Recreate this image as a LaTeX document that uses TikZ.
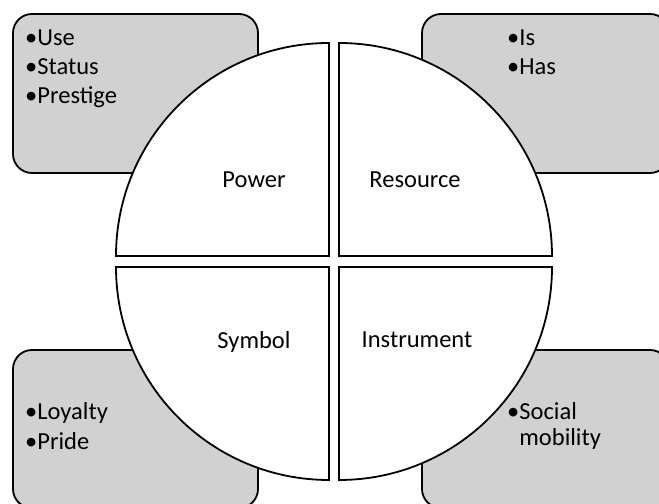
\documentclass[tikz,border=0pt]{standalone}
\usepackage{fontspec}
\setmainfont{Carlito}
\usepackage{tikz}

\definecolor{boxgray}{RGB}{209,209,209}

\begin{document}
\begin{tikzpicture}[x=1bp, y=1bp,
    infobox/.style={draw, line width=1.8bp, fill=boxgray, rounded corners=19bp},
    quarter/.style={draw, line width=1.8bp, fill=white},
    word/.style={inner sep=0pt, font=\fontsize{24.5bp}{29bp}\selectfont},
    item/.style={word, anchor=base west}]
	\useasboundingbox (0,0) rectangle (659,504);
	\clip (0,0) rectangle (659,504);

	% grey boxes in the corners
	\path[infobox] (13,331) rectangle (258,490); % top left
	\path[infobox] (422,331) rectangle (669,490); % top right
	\path[infobox] (13,-4) rectangle (258,154); % bottom left
	\path[infobox] (422,-4) rectangle (669,154); % bottom right

	% the four quarters of the circle
	\foreach \cx/\cy/\a in {329/248/90, 339/248/0, 329/237/180, 339/237/270}
		\path[quarter] (\cx,\cy) -- ++(\a:213) arc[start angle=\a, delta angle=90, radius=213] -- cycle;

	\node[word, anchor=base] (power) at (254,316) {Power};
	\node[word, anchor=base] (resource) at (415,316) {Resource};
	\node[word, anchor=base] (symbol) at (254,155) {Symbol};
	\node[word, anchor=base] (instrument) at (417,156) {Instrument};

	% bullet lists
	\node[item] (use) at (25,458) {\textbullet Use};
	\node[item] (status) at (25,429) {\textbullet Status};
	\node[item] (prestige) at (25,400) {\textbullet Prestige};

	\node[item] (is) at (507,458) {\textbullet Is};
	\node[item] (has) at (507,429) {\textbullet Has};

	\node[item] (loyalty) at (25,84) {\textbullet Loyalty};
	\node[item] (pride) at (25,54) {\textbullet Pride};

	\node[item] (social) at (507,84) {\textbullet Social};
	\node[item] (mobility) at (507,58) {\phantom{\textbullet}mobility};
\end{tikzpicture}
\end{document}
